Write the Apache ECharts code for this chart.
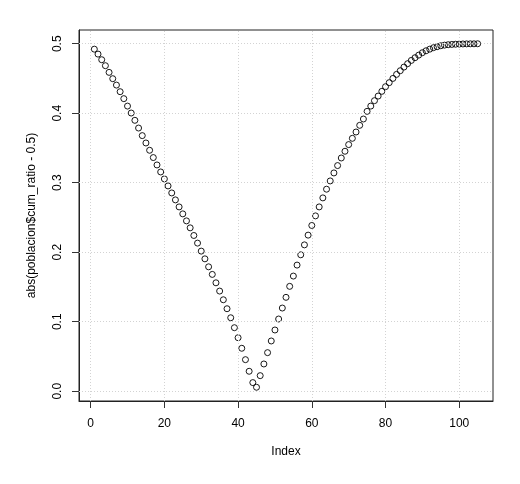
<!DOCTYPE html>
<html>
<head>
<meta charset="utf-8">
<script src="https://cdn.jsdelivr.net/npm/echarts@6/dist/echarts.min.js"></script>
<style>html,body{margin:0;padding:0;background:#fff;}#c{width:520px;height:484px;}</style>
</head>
<body>
<div id="c"></div>
<script>
const indexValues = [];
for (let i = 1; i <= 105; i++) indexValues.push(i);
const absValues = [
  0.4922, 0.4851, 0.4770, 0.4684, 0.4588, 0.4497, 0.4405, 0.4310, 0.4210, 0.4103,
  0.4003, 0.3898, 0.3787, 0.3678, 0.3572, 0.3467, 0.3362, 0.3256, 0.3155, 0.3055,
  0.2954, 0.2853, 0.2753, 0.2652, 0.2552, 0.2451, 0.2351, 0.2241, 0.2131, 0.2016,
  0.1905, 0.1790, 0.1681, 0.1560, 0.1441, 0.1316, 0.1187, 0.1057, 0.0914, 0.0770,
  0.0618, 0.0454, 0.0287, 0.0124, 0.0057, 0.0224, 0.0392, 0.0555, 0.0723, 0.0881,
  0.1039, 0.1197, 0.1351, 0.1509, 0.1657, 0.1815, 0.1963, 0.2106, 0.2246, 0.2385,
  0.2523, 0.2652, 0.2782, 0.2907, 0.3026, 0.3141, 0.3247, 0.3356, 0.3453, 0.3549,
  0.3639, 0.3730, 0.3826, 0.3917, 0.4027, 0.4103, 0.4181, 0.4247, 0.4315, 0.4382,
  0.4440, 0.4501, 0.4559, 0.4612, 0.4664, 0.4713, 0.4760, 0.4799, 0.4836, 0.4871,
  0.4899, 0.4922, 0.4943, 0.4957, 0.4971, 0.4980, 0.4986, 0.4990, 0.4993, 0.4995,
  0.4997, 0.4998, 0.4999, 0.4999, 0.5000
];
const xTicks = [0, 20, 40, 60, 80, 100];
const yTicks = [0.0, 0.1, 0.2, 0.3, 0.4, 0.5];
const xName = 'Index';
const yName = 'abs(poblacion$cum_ratio - 0.5)';

const xMin = 1 - 0.04 * 104, xMax = 105 + 0.04 * 104;
const yLo = 0.0057, yHi = 0.5;
const yMin = yLo - 0.04 * (yHi - yLo), yMax = yHi + 0.04 * (yHi - yLo);

const font = 'Liberation Sans, Arial, sans-serif';
const gridLine = { color: '#d3d3d3', type: [1, 2], width: 1 };

const chart = echarts.init(document.getElementById('c'), null, { renderer: 'canvas' });
chart.setOption({
  animation: false,
  backgroundColor: '#fff',
  grid: { left: 79, right: 27, top: 30, bottom: 83, show: true, borderColor: '#222', borderWidth: 1, backgroundColor: 'transparent' },
  xAxis: {
    type: 'value', min: xMin, max: xMax,
    name: xName, nameLocation: 'middle', nameGap: 45,
    nameTextStyle: { fontFamily: font, fontSize: 12, color: '#000' },
    axisLine: { show: true, onZero: false, lineStyle: { color: '#222', width: 1 } },
    axisTick: { show: true, length: 7, inside: false, customValues: xTicks, lineStyle: { color: '#333', width: 1, type: 'solid' } },
    axisLabel: { customValues: xTicks, margin: 17, fontFamily: font, fontSize: 12, color: '#000', formatter: v => String(v) },
    splitLine: { show: false }
  },
  yAxis: {
    type: 'value', min: yMin, max: yMax,
    name: yName, nameLocation: 'middle', nameGap: 41, nameRotate: 90,
    nameTextStyle: { fontFamily: font, fontSize: 12, color: '#000' },
    axisLine: { show: true, onZero: false, lineStyle: { color: '#222', width: 1 } },
    axisTick: { show: true, length: 7, inside: false, customValues: yTicks, lineStyle: { color: '#333', width: 1, type: 'solid' } },
    axisLabel: { customValues: yTicks, margin: 15, rotate: 90, fontFamily: font, fontSize: 12, color: '#000', formatter: v => v.toFixed(1) },
    splitLine: { show: false }
  },
  series: [
    {
      type: 'scatter',
      data: indexValues.map((x, i) => [x, absValues[i]]),
      symbol: 'circle', symbolSize: 6,
      itemStyle: { color: 'rgba(255,255,255,0)', borderColor: '#000', borderWidth: 0.9, opacity: 1 },
      z: 3,
      markLine: {
        silent: true, symbol: 'none', label: { show: false },
        lineStyle: gridLine,
        data: xTicks.map(v => ({ xAxis: v })).concat(yTicks.map(v => ({ yAxis: v })))
      }
    }
  ]
});
</script>
</body>
</html>
